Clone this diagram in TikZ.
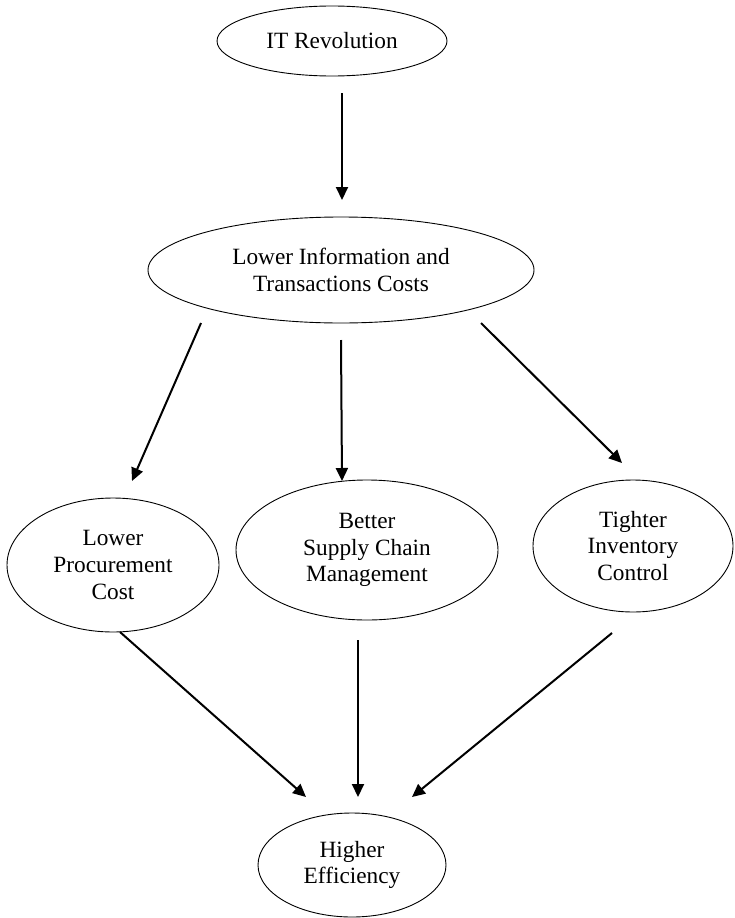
\documentclass[tikz,border=0pt]{standalone}
\usepackage{fontspec}
\setmainfont{Liberation Serif}
\usetikzlibrary{arrows.meta, shapes.geometric, positioning}

\begin{document}
\begin{tikzpicture}[x=1pt, y=-1pt,
    bubble/.style={draw, ellipse, line width=0.9pt, inner sep=0pt, align=center,
        font=\fontsize{23.3}{26.7}\selectfont},
    flow/.style={line width=2pt, -{Triangle[length=13pt, width=12pt]}}]

    % Page frame
    \useasboundingbox (0,0) rectangle (734,918);

    % Ovals
    \node[bubble, minimum width=230, minimum height=70] (it) at (332,41) {IT Revolution};
    \node[bubble, minimum width=386, minimum height=106] (lic) at (341,270) {Lower Information and\\Transactions Costs};
    \node[bubble, minimum width=212, minimum height=134] (proc) at (113,565) {Lower\\Procurement\\Cost};
    \node[bubble, minimum width=262, minimum height=140] (scm) at (367,550) {Better\\Supply Chain\\Management};
    \node[bubble, minimum width=200, minimum height=132] (inv) at (633,546) {Tighter\\Inventory\\Control};
    \node[bubble, minimum width=188, minimum height=104] (eff) at (352,865) {Higher\\Efficiency};

    % Arrow ends
    \coordinate (it-out) at (342,93);
    \coordinate (lic-in) at (342,200);
    \coordinate (lic-out1) at (201,323);
    \coordinate (lic-out2) at (341,340);
    \coordinate (lic-out3) at (481,323);
    \coordinate (proc-in) at (132,481);
    \coordinate (scm-in) at (342,481);
    \coordinate (inv-in) at (622,463);
    \coordinate (proc-out) at (120,632);
    \coordinate (scm-out) at (358,640);
    \coordinate (inv-out) at (612,633);
    \coordinate (eff-in1) at (306,797);
    \coordinate (eff-in2) at (358,797);
    \coordinate (eff-in3) at (412,797);

    % Arrows
    \foreach \s/\t in {it-out/lic-in, lic-out1/proc-in, lic-out2/scm-in, lic-out3/inv-in,
                        proc-out/eff-in1, scm-out/eff-in2, inv-out/eff-in3} {
        \draw[flow] (\s) -- (\t);
    }
\end{tikzpicture}
\end{document}
